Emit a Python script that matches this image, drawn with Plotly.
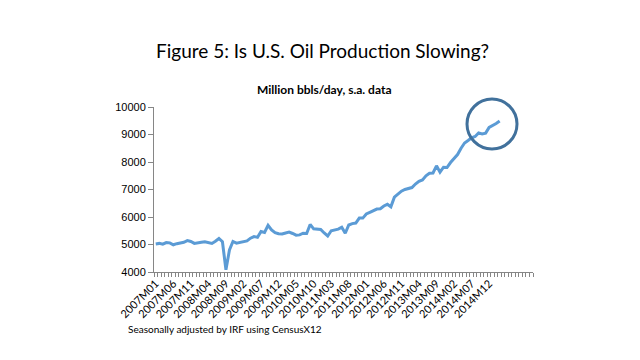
import plotly.graph_objects as go

# Monthly U.S. oil production, thousand bbls/day (seasonally adjusted), 2007M01 .. 2015M03
production = [
    5020, 5040, 5010, 5070, 5060, 4990, 5030, 5060, 5080, 5140, 5110, 5040,   # 2007
    5070, 5080, 5100, 5060, 5040, 5120, 5220, 5100, 4080, 4800, 5110, 5050,   # 2008
    5080, 5120, 5130, 5230, 5290, 5260, 5470, 5440, 5700, 5530, 5430, 5390,   # 2009
    5380, 5420, 5450, 5400, 5340, 5350, 5410, 5400, 5730, 5570, 5560, 5550,   # 2010
    5420, 5310, 5500, 5520, 5560, 5630, 5410, 5710, 5760, 5780, 5960, 5960,   # 2011
    6110, 6170, 6220, 6290, 6300, 6400, 6460, 6370, 6720, 6840, 6940, 7000,   # 2012
    7030, 7070, 7200, 7300, 7350, 7500, 7590, 7600, 7860, 7630, 7810, 7800,   # 2013
    7980, 8120, 8270, 8500, 8690, 8780, 8880, 8930, 9060, 9020, 9050, 9260,   # 2014
    9320, 9400, 9490,                                                         # 2015
]

# Category axis tick labels (every 5th month) and their category positions
tick_labels = ["2007M01", "2007M06", "2007M11", "2008M04", "2008M09", "2009M02",
               "2009M07", "2009M12", "2010M05", "2010M10", "2011M03", "2011M08",
               "2012M01", "2012M06", "2012M11", "2013M04", "2013M09", "2014M02",
               "2014M07", "2014M12"]
tick_positions = [0, 5, 10, 15, 20, 25, 30, 35, 40, 45, 50, 55,
                  60, 65, 70, 75, 80, 85, 90, 95]
n_categories = 108  # axis spans 2007M01 .. 2015M12

x_index = list(range(len(production)))

# page body has an 8px margin; convert screen pixels to figure pixels
OFF = 8
L, R, T, B = 154 - OFF, 533 - OFF, 107 - OFF, 272 - OFF
PW, PH = R - L, B - T


def px(x):
    return (x - OFF - L) / PW


def py(y):
    return (B - (y - OFF)) / PH


fig = go.Figure()
fig.add_trace(go.Scatter(
    x=x_index, y=production, mode="lines",
    line=dict(color="#5b9bd5", width=3),
    hoverinfo="skip", showlegend=False,
))

# Highlight circle around the latest observations
fig.add_shape(type="circle", xref="paper", yref="paper",
              x0=px(467), x1=px(517), y0=py(149), y1=py(99),
              line=dict(color="#41719c", width=3))

fig.update_layout(
    width=640, height=360,
    paper_bgcolor="white", plot_bgcolor="white",
    margin=dict(l=L, r=640 - R, t=T, b=360 - B),
    font=dict(family="Lato, Open Sans, sans-serif", color="#000000"),
    showlegend=False,
)

fig.update_xaxes(
    range=[-0.5, n_categories - 0.5],
    tickmode="array", tickvals=tick_positions, ticktext=tick_labels,
    tickangle=-45, tickfont=dict(size=11, family="Lato"),
    ticks="", showgrid=False, zeroline=False,
    showline=True, linecolor="#868686", linewidth=1,
    minor=dict(ticks="outside", ticklen=4, tickcolor="#868686",
               tick0=-0.5, dtick=1, showgrid=False),
)
fig.update_yaxes(
    range=[4000, 10000], dtick=1000, tickformat="d",
    tickfont=dict(size=11, family="Liberation Sans"),
    ticks="outside", ticklen=5, tickcolor="#868686",
    showgrid=False, zeroline=False,
    showline=True, linecolor="#868686", linewidth=1,
)

fig.add_annotation(text="Figure 5: Is U.S. Oil Production Slowing?",
                   xref="paper", yref="paper", x=px(322.5), y=py(50),
                   xanchor="center", yanchor="middle", showarrow=False,
                   font=dict(size=19, family="Lato", color="#000000"))
fig.add_annotation(text="<b>Million bbls/day, s.a. data</b>",
                   xref="paper", yref="paper", x=px(323.5), y=py(89),
                   xanchor="center", yanchor="middle", showarrow=False,
                   font=dict(size=12, family="Lato", color="#000000"))
fig.add_annotation(text="Seasonally adjusted by IRF using CensusX12",
                   xref="paper", yref="paper", x=px(126), y=py(329),
                   xanchor="left", yanchor="middle", showarrow=False,
                   font=dict(size=10, family="Lato", color="#000000"))

fig.write_html("out.html")
